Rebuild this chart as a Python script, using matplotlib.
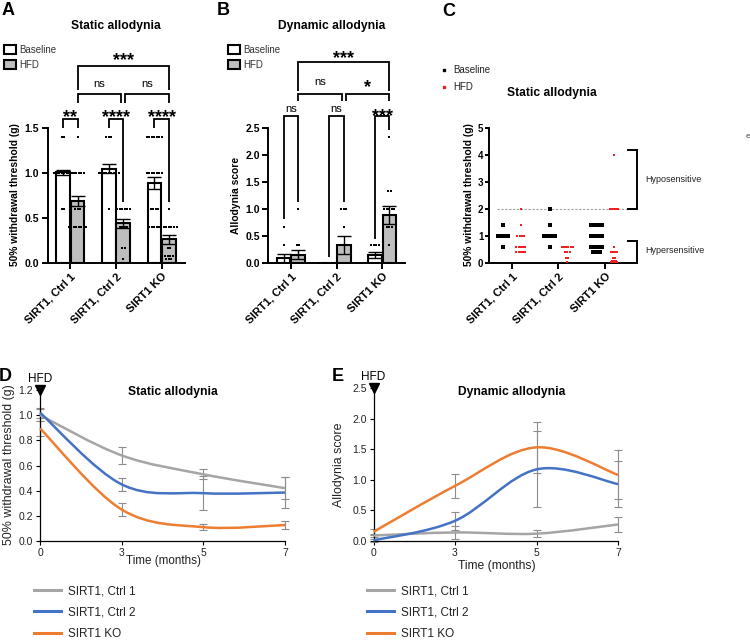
import numpy as np
import matplotlib
matplotlib.use('Agg')
import matplotlib.pyplot as plt
from matplotlib.path import Path
from matplotlib.patches import PathPatch
from matplotlib.lines import Line2D

plt.rcParams['font.family'] = ['Liberation Sans', 'DejaVu Sans']

# ---------------- data ----------------
groups = ['SIRT1, Ctrl 1', 'SIRT1, Ctrl 2', 'SIRT1 KO']

# panel A - static allodynia (g), mean / SEM per group
static_base_mean = [1.01, 1.05, 0.89]
static_base_sem = [0.03, 0.05, 0.07]
static_hfd_mean = [0.69, 0.44, 0.26]
static_hfd_sem = [0.06, 0.05, 0.05]
# individual animals as (value, count)
static_base_pts = [[(1.4, 2), (1.0, 8), (0.6, 2)],
                   [(1.4, 3), (1.0, 9), (0.6, 1)],
                   [(1.4, 7), (1.0, 7), (0.6, 6), (0.4, 5)]]
static_hfd_pts = [[(1.4, 1), (1.0, 6), (0.6, 3), (0.4, 8)],
                  [(0.6, 6), (0.4, 4), (0.16, 2), (0.04, 1)],
                  [(0.6, 1), (0.4, 7), (0.16, 2), (0.07, 4), (0.04, 3)]]

# panel B - dynamic allodynia score
dyn_base_mean = [0.08, 0.0, 0.14]
dyn_base_sem = [0.08, 0.0, 0.06]
dyn_hfd_mean = [0.15, 0.33, 0.89]
dyn_hfd_sem = [0.09, 0.16, 0.17]
dyn_base_pts = [[(0.67, 1), (0.33, 1), (0.0, 11)],
                [(0.0, 9)],
                [(0.33, 4), (0.0, 6)]]
dyn_hfd_pts = [[(1.0, 1), (0.33, 2), (0.0, 10)],
               [(1.0, 3), (0.67, 1), (0.0, 7)],
               [(2.33, 1), (1.33, 2), (1.0, 5), (0.67, 3), (0.33, 1), (0.0, 3)]]

# panel C - static allodynia, all animals
c_base_pts = [[(1.4, 1), (1.0, 6), (0.6, 1)],
              [(2.0, 1), (1.4, 1), (1.0, 6), (0.6, 1)],
              [(1.4, 6), (1.0, 6), (0.6, 6), (0.4, 4)]]
c_hfd_pts = [[(2.0, 1), (1.4, 1), (1.0, 4), (0.6, 5), (0.4, 5)],
             [(0.6, 6), (0.4, 3), (0.16, 2), (0.04, 1)],
             [(4.0, 1), (2.0, 5), (0.6, 1), (0.4, 4), (0.16, 2), (0.07, 3), (0.04, 4)]]

# panels D/E - time course
months = ['0', '3', '5', '7']
static_ctrl1 = [1.00, 0.68, 0.53, 0.42]
static_ctrl1_err = [0.05, 0.065, 0.04, 0.09]
static_ctrl2 = [1.02, 0.45, 0.38, 0.385]
static_ctrl2_err = [0.04, 0.05, 0.135, 0.12]
static_ko = [0.895, 0.25, 0.11, 0.127]
static_ko_err = [0.06, 0.05, 0.025, 0.03]

dyn_ctrl1 = [0.09, 0.14, 0.12, 0.27]
dyn_ctrl1_err = [0.03, 0.10, 0.06, 0.12]
dyn_ctrl2 = [0.01, 0.33, 1.17, 0.93]
dyn_ctrl2_err = [0.02, 0.15, 0.62, 0.37]
dyn_ko = [0.15, 0.90, 1.53, 1.08]
dyn_ko_err = [0.05, 0.19, 0.42, 0.40]

line_names = ['SIRT1, Ctrl 1', 'SIRT1, Ctrl 2', 'SIRT1 KO']
line_colors = ['#A5A5A5', '#4472C4', '#ED7D31']

# ---------------- helpers ----------------
W, H = 750, 641
fig = plt.figure(figsize=(W / 100, H / 100), dpi=100)


def px_axes(x0, x1, ytop, ybot):
    return fig.add_axes([x0 / W, 1 - ybot / H, (x1 - x0) / W, (ybot - ytop) / H])


def ftext(x, y, s, **kw):
    fig.text(x / W, 1 - y / H, s, **kw)


def dots(ax, center, pairs, spacing, color, size):
    xs, ys = [], []
    for value, count in pairs:
        offs = (np.arange(count) - (count - 1) / 2) * spacing
        xs.extend(center + offs)
        ys.extend([value] * count)
    ax.scatter(xs, ys, s=size, c=color, marker='s', linewidths=0, zorder=5, clip_on=False)


def bracket(ax, x1, x2, y, y1, y2, label, ty):
    ax.plot([x1, x1, x2, x2], [y1, y, y, y2], color='black', lw=1.3,
            clip_on=False, solid_joinstyle='miter', solid_capstyle='butt')
    if label == 'ns':
        ax.annotate(label, ((x1 + x2) / 2, ty), xytext=(0, -0.27 * 8), textcoords='offset points',
                    ha='center', va='baseline', fontsize=8, annotation_clip=False)
    else:
        ax.annotate(label, ((x1 + x2) / 2, ty), xytext=(0, -0.58 * 13), textcoords='offset points',
                    ha='center', va='baseline', fontsize=13, fontweight='bold', annotation_clip=False)


def prism_axes(ax, ylim, yticks, ytl, ysize=7.5):
    ax.set_ylim(*ylim)
    ax.set_yticks(yticks)
    ax.set_yticklabels(ytl, fontsize=ysize, fontweight='bold')
    ax.set_xticks(range(3))
    ax.set_xticklabels(groups, rotation=45, ha='right', va='top', rotation_mode='anchor',
                       fontsize=8, fontweight='bold')
    for s in ['top', 'right']:
        ax.spines[s].set_visible(False)
    for s in ['left', 'bottom']:
        ax.spines[s].set_linewidth(1.4)
    ax.tick_params(width=1.4, length=4, pad=2)


def bar_panel(ax, bm, bs, hm, hs, bpts, hpts, ylim, yticks, ytl):
    x = np.arange(3)
    b1 = ax.bar(x - 0.16, bm, width=0.30, color='white', edgecolor='black', lw=1.5, zorder=2)
    b2 = ax.bar(x + 0.16, hm, width=0.30, color='#BEBEBE', edgecolor='black', lw=1.5, zorder=2)
    ax.errorbar(x - 0.16, bm, yerr=bs, fmt='none', ecolor='black', elinewidth=1, capsize=5, capthick=1, zorder=6)
    ax.errorbar(x + 0.16, hm, yerr=hs, fmt='none', ecolor='black', elinewidth=1, capsize=5, capthick=1, zorder=6)
    for i in range(3):
        dots(ax, i - 0.16, bpts[i], 0.055, 'black', 4.2)
        dots(ax, i + 0.16, hpts[i], 0.055, 'black', 4.2)
    ax.set_xlim(-0.5, 2.5)
    prism_axes(ax, ylim, yticks, ytl)
    return b1, b2


def smooth_path(xs, ys):
    pts = list(zip(xs, ys))
    n = len(pts)
    verts = [pts[0]]
    codes = [Path.MOVETO]
    for i in range(n - 1):
        p0 = pts[i - 1] if i > 0 else pts[i]
        p1, p2 = pts[i], pts[i + 1]
        p3 = pts[i + 2] if i + 2 < n else pts[i + 1]
        c1 = (p1[0] + (p2[0] - p0[0]) / 6, p1[1] + (p2[1] - p0[1]) / 6)
        c2 = (p2[0] - (p3[0] - p1[0]) / 6, p2[1] - (p3[1] - p1[1]) / 6)
        verts += [c1, c2, p2]
        codes += [Path.CURVE4] * 3
    return Path(verts, codes)


def line_panel(ax, series, errs, ylim, yticks, fmt):
    x = np.arange(4)
    for vals, err, c in zip(series, errs, line_colors):
        ax.errorbar(x, vals, yerr=err, fmt='none', ecolor='#8C8C8C', elinewidth=0.8,
                    capsize=3, capthick=0.8, zorder=2, clip_on=False)
        ax.add_patch(PathPatch(smooth_path(x, vals), fill=False, edgecolor=c, lw=1.8,
                               zorder=3, clip_on=False))
    ax.set_xlim(0, 3)
    ax.set_ylim(*ylim)
    ax.set_xticks(x)
    ax.set_xticklabels(months, fontsize=7.5, color='#222222')
    ax.set_yticks(yticks)
    ax.set_yticklabels([fmt.format(v) for v in yticks], fontsize=7.5, color='#222222')
    for s in ['top', 'right']:
        ax.spines[s].set_visible(False)
    for s in ['left', 'bottom']:
        ax.spines[s].set_linewidth(0.9)
    ax.tick_params(length=3, width=0.8, pad=2)
    # HFD onset marker
    ax.plot([0], [ylim[1]], marker='v', color='black', markersize=7, clip_on=False, zorder=6)
    ax.annotate('HFD', (0, ylim[1]), xytext=(0, 8), textcoords='offset points',
                ha='center', va='center', fontsize=8.5, annotation_clip=False)
    return [Line2D([], [], color=c, lw=2.2) for c in line_colors]


# ---------------- panel A ----------------
axA = px_axes(47.5, 184.5, 128.3, 262.7)
bA = bar_panel(axA, static_base_mean, static_base_sem, static_hfd_mean, static_hfd_sem,
               static_base_pts, static_hfd_pts, (0, 1.5), [0, 0.5, 1.0, 1.5], ['0.0', '0.5', '1.0', '1.5'])
bracket(axA, -0.16, 0.16, 1.60, 1.50, 1.50, '**', 1.69)
bracket(axA, 0.84, 1.16, 1.60, 1.50, 0.68, '****', 1.69)
bracket(axA, 1.84, 2.16, 1.60, 1.50, 0.68, '****', 1.69)
bracket(axA, 0.16, 1.12, 1.88, 1.78, 1.78, 'ns', 2.0)
bracket(axA, 1.20, 2.16, 1.88, 1.78, 1.78, 'ns', 2.0)
bracket(axA, 0.16, 2.16, 2.20, 1.93, 1.93, '***', 2.32)
axA.legend([bA[0], bA[1]], ['Baseline', 'HFD'], loc='upper left', bbox_to_anchor=(4 / W, 1 - 45 / H),
           bbox_transform=fig.transFigure, frameon=False, fontsize=7, handlelength=1.2,
           handleheight=1.1, handletextpad=0.4, labelspacing=0.5, borderpad=0, borderaxespad=0,
           labelcolor='#333333')
ftext(116, 26, 'Static allodynia', ha='center', va='center', fontsize=8.7, fontweight='bold')
ftext(15, 195, '50% withdrawal threshold (g)', rotation=90, ha='center', va='center',
      fontsize=7.4, fontweight='bold')

# ---------------- panel B ----------------
axB = px_axes(268, 405, 128.3, 262.7)
bB = bar_panel(axB, dyn_base_mean, dyn_base_sem, dyn_hfd_mean, dyn_hfd_sem,
               dyn_base_pts, dyn_hfd_pts, (0, 2.5), [0, 0.5, 1.0, 1.5, 2.0, 2.5],
               ['0.0', '0.5', '1.0', '1.5', '2.0', '2.5'])
bracket(axB, -0.16, 0.16, 2.73, 0.81, 1.13, 'ns', 2.86)
bracket(axB, 0.84, 1.16, 2.73, 0.11, 1.13, 'ns', 2.86)
bracket(axB, 1.84, 2.16, 2.73, 0.45, 2.47, '***', 2.82)
bracket(axB, 0.16, 1.12, 3.14, 3.01, 3.01, 'ns', 3.36)
bracket(axB, 1.20, 2.16, 3.14, 3.01, 3.01, '*', 3.36)
bracket(axB, 0.16, 2.16, 3.73, 3.19, 3.19, '***', 3.90)
axB.legend([bB[0], bB[1]], ['Baseline', 'HFD'], loc='upper left', bbox_to_anchor=(228 / W, 1 - 45 / H),
           bbox_transform=fig.transFigure, frameon=False, fontsize=7, handlelength=1.2,
           handleheight=1.1, handletextpad=0.4, labelspacing=0.5, borderpad=0, borderaxespad=0,
           labelcolor='#333333')
ftext(332, 26, 'Dynamic allodynia', ha='center', va='center', fontsize=8.7, fontweight='bold')
ftext(236, 195, 'Allodynia score', rotation=90, ha='center', va='center',
      fontsize=7.4, fontweight='bold')

# ---------------- panel C ----------------
axC = px_axes(489, 627, 128.3, 262.7)
for i in range(3):
    dots(axC, i - 0.19, c_base_pts[i], 0.047, 'black', 5)
    dots(axC, i + 0.19, c_hfd_pts[i], 0.047, '#F02020', 4)
axC.set_xlim(-0.49, 2.47)
prism_axes(axC, (0, 5), [0, 1, 2, 3, 4, 5], ['0', '1', '2', '3', '4', '5'], ysize=7)
axC.tick_params(axis='y', length=3, pad=1)
axC.plot([-0.32, 2.5], [2, 2], ls=(0, (2, 1.5)), color='#A0A0A0', lw=0.8, clip_on=False, zorder=1)
axC.plot([2.5, 2.69, 2.69, 2.5], [4.2, 4.2, 2.0, 2.0], color='black', lw=1.4, clip_on=False,
         solid_joinstyle='miter')
axC.plot([2.5, 2.69, 2.69, 2.5], [0.8, 0.8, 0.0, 0.0], color='black', lw=1.4, clip_on=False,
         solid_joinstyle='miter')
axC.text(2.86, 3.1, 'Hyposensitive', fontsize=6.5, va='center', ha='left', color='#222222')
axC.text(2.86, 0.45, 'Hypersensitive', fontsize=6.5, va='center', ha='left', color='#222222')
ftext(552, 93, 'Static allodynia', ha='center', va='center', fontsize=8.7, fontweight='bold')
ftext(469, 195, '50% withdrawal threshold (g)', rotation=90, ha='center', va='center',
      fontsize=7.4, fontweight='bold')
c_handles = [Line2D([], [], ls='none', marker='s', markersize=2, color='black'),
             Line2D([], [], ls='none', marker='s', markersize=2, color='#F02020')]
axC.legend(c_handles, ['Baseline', 'HFD'], loc='upper left', bbox_to_anchor=(440 / W, 1 - 65 / H),
           bbox_transform=fig.transFigure, frameon=False, fontsize=7, handlelength=0.8,
           handletextpad=0.6, labelspacing=0.75, borderpad=0, borderaxespad=0, labelcolor='#222222')
ftext(748, 137, 'e', ha='center', va='center', fontsize=6, color='#444444')

# ---------------- panel D ----------------
axD = px_axes(40, 285, 390, 541)
hD = line_panel(axD, [static_ctrl1, static_ctrl2, static_ko],
                [static_ctrl1_err, static_ctrl2_err, static_ko_err],
                (0, 1.2), [0, 0.2, 0.4, 0.6, 0.8, 1.0, 1.2], '{:.1f}')
ftext(173, 392, 'Static allodynia', ha='center', va='center', fontsize=8.7, fontweight='bold')
ftext(163, 561, 'Time (months)', ha='center', va='center', fontsize=8.4, color='#222222')
ftext(9, 465, '50% withdrawal threshold (g)', rotation=90, ha='center', va='center',
      fontsize=8.9, color='#222222')
fig.legend(hD, line_names, loc='upper left', bbox_to_anchor=(34 / W, 1 - 585 / H), frameon=False,
           fontsize=8.5, handlelength=2.3, handletextpad=0.55, labelspacing=0.8, borderpad=0,
           borderaxespad=0, labelcolor='#222222')

# ---------------- panel E ----------------
axE = px_axes(373.5, 618, 388, 541)
hE = line_panel(axE, [dyn_ctrl1, dyn_ctrl2, dyn_ko],
                [dyn_ctrl1_err, dyn_ctrl2_err, dyn_ko_err],
                (0, 2.5), [0, 0.5, 1.0, 1.5, 2.0, 2.5], '{:.1f}')
ftext(512, 392, 'Dynamic allodynia', ha='center', va='center', fontsize=8.7, fontweight='bold')
ftext(497, 566, 'Time (months)', ha='center', va='center', fontsize=8.7, color='#222222')
ftext(339, 465, 'Allodynia score', rotation=90, ha='center', va='center',
      fontsize=8.9, color='#222222')
fig.legend(hE, line_names, loc='upper left', bbox_to_anchor=(367 / W, 1 - 585 / H), frameon=False,
           fontsize=8.5, handlelength=2.3, handletextpad=0.55, labelspacing=0.8, borderpad=0,
           borderaxespad=0, labelcolor='#222222')

# ---------------- panel letters ----------------
for lbl, x, y in [('A', 2, 2), ('B', 217, 2), ('C', 442, 3), ('D', -1, 368), ('E', 332, 368)]:
    ftext(x, y, lbl, ha='left', va='top', fontsize=13, fontweight='bold')

fig.savefig('out.png', dpi=100)
